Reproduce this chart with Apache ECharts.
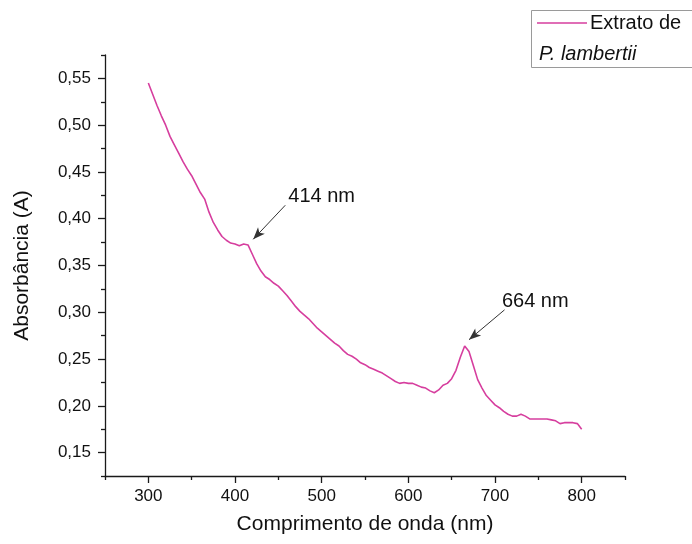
<!DOCTYPE html>
<html>
<head>
<meta charset="utf-8">
<script src="https://cdn.jsdelivr.net/npm/echarts@6/dist/echarts.min.js"></script>
<style>
html,body{margin:0;padding:0;background:#fff;}
#chart{width:692px;height:544px;}
</style>
</head>
<body>
<div id="chart"></div>
<script>
// Wavelength (nm)
const wavelengths = [300,305,310,315,320,325,330,335,340,345,350,355,360,365,370,375,380,385,390,395,
  400,405,410,415,420,425,430,435,440,445,450,455,460,465,470,475,480,485,490,495,
  500,505,510,515,520,525,530,535,540,545,550,555,560,565,570,575,580,585,590,595,
  600,605,610,615,620,625,630,635,640,645,650,655,660,665,670,675,680,685,690,695,
  700,705,710,715,720,725,730,735,740,745,750,755,760,765,770,775,780,785,790,795,800];
// Absorbance (A)
const absorbance = [0.545,0.533,0.521,0.510,0.500,0.488,0.479,0.470,0.461,0.453,0.446,0.437,0.428,0.421,0.407,0.396,0.388,0.381,0.377,0.374,
  0.373,0.371,0.373,0.372,0.362,0.352,0.344,0.338,0.335,0.331,0.328,0.323,0.318,0.312,0.306,0.301,0.297,0.293,0.288,0.283,
  0.279,0.275,0.271,0.267,0.264,0.259,0.255,0.253,0.250,0.246,0.244,0.241,0.239,0.237,0.235,0.232,0.229,0.226,0.224,0.225,
  0.224,0.224,0.222,0.220,0.219,0.216,0.214,0.217,0.222,0.224,0.229,0.238,0.252,0.264,0.258,0.243,0.228,0.219,0.211,0.206,
  0.201,0.198,0.194,0.191,0.189,0.189,0.191,0.189,0.186,0.186,0.186,0.186,0.186,0.185,0.184,0.181,0.182,0.182,0.182,0.181,0.175];

const seriesName = 'Extrato de P. lambertii';
const xMajorTicks = [300,400,500,600,700,800];
const xMinorTicks = [250,350,450,550,650,750,850];
const yMajorTicks = [0.15,0.20,0.25,0.30,0.35,0.40,0.45,0.50,0.55];
const yMinorTicks = [0.125,0.175,0.225,0.275,0.325,0.375,0.425,0.475,0.525,0.575];
// Annotations: label, text anchor [nm, A], arrow start, arrow tip
const annotLabels = ['414 nm','664 nm'];
const annotText = [[461.5,0.4234],[708,0.3115]];
const annotArrowFrom = [[458,0.4144],[711,0.3026]];
const annotArrowTo = [[421,0.378],[670,0.2707]];

const lineColor = '#d63e9e';
const axisColor = '#1a1a1a';
const font = 'Arial, "Liberation Sans", sans-serif';

const chart = echarts.init(document.getElementById('chart'), null, {renderer:'canvas'});
const baseX = {type:'value', min:250, max:850, position:'bottom', splitLine:{show:false},
  axisLine:{show:true, onZero:false, lineStyle:{color:axisColor, width:1.3}}};
const baseY = {type:'value', min:0.125, max:0.575, position:'left', splitLine:{show:false},
  axisLine:{show:true, onZero:false, lineStyle:{color:axisColor, width:1.3}}};

chart.setOption({
  animation:false,
  backgroundColor:'#fff',
  grid:{left:105, right:67, top:55, bottom:68},
  xAxis:[
    Object.assign({}, baseX, {
      name:'Comprimento de onda (nm)', nameLocation:'middle', nameGap:38,
      nameTextStyle:{fontSize:21, color:'#111', fontFamily:font},
      axisTick:{show:true, length:7, customValues:xMajorTicks, lineStyle:{color:axisColor, width:1.3}},
      axisLabel:{customValues:xMajorTicks, fontSize:17, color:'#111', fontFamily:font, margin:12}
    }),
    Object.assign({}, baseX, {
      axisLine:{show:false, onZero:false},
      axisTick:{show:true, length:4, customValues:xMinorTicks, lineStyle:{color:axisColor, width:1.3}},
      axisLabel:{show:false}
    })
  ],
  yAxis:[
    Object.assign({}, baseY, {
      name:'Absorbância (A)', nameLocation:'middle', nameGap:72,
      nameTextStyle:{fontSize:21, color:'#111', fontFamily:font},
      axisTick:{show:true, length:7, customValues:yMajorTicks, lineStyle:{color:axisColor, width:1.3}},
      axisLabel:{customValues:yMajorTicks, fontSize:17, color:'#111', fontFamily:font, margin:14,
        formatter: v => v.toFixed(2).replace('.', ',')}
    }),
    Object.assign({}, baseY, {
      axisLine:{show:false, onZero:false},
      axisTick:{show:true, length:4, customValues:yMinorTicks, lineStyle:{color:axisColor, width:1.3}},
      axisLabel:{show:false}
    })
  ],
  series:[
    {
      name:seriesName, type:'line', xAxisIndex:0, yAxisIndex:0,
      data: wavelengths.map((w,i)=>[w, absorbance[i]]),
      showSymbol:false, smooth:false,
      lineStyle:{color:lineColor, width:1.6},
      markLine:{
        silent:true, symbol:['none','arrow'], symbolSize:[7,12],
        label:{show:false},
        lineStyle:{color:'#333', width:1, type:'solid'},
        data: annotArrowFrom.map((p,i)=>[{coord:p},{coord:annotArrowTo[i]}])
      },
      markPoint:{
        silent:true, symbol:'circle', symbolSize:1,
        itemStyle:{color:'rgba(0,0,0,0)'},
        label:{show:true, position:'inside', align:'left', verticalAlign:'middle',
          formatter: p => p.name, fontSize:20, color:'#111', fontFamily:font},
        data: annotText.map((p,i)=>({coord:p, name:annotLabels[i]}))
      }
    }
  ],
  graphic:[
    {type:'rect', shape:{x:531.5, y:10.5, width:170, height:57},
      style:{fill:'#fff', stroke:'#9a9a9a', lineWidth:1}},
    {type:'line', shape:{x1:537, y1:23, x2:587, y2:23}, style:{stroke:lineColor, lineWidth:1.6}},
    {type:'text', x:590, y:23, style:{text:'Extrato de', font:'20px Arial, "Liberation Sans", sans-serif', fill:'#111', textVerticalAlign:'middle'}},
    {type:'text', x:539, y:54, style:{text:'P. lambertii', font:'italic 20px Arial, "Liberation Sans", sans-serif', fill:'#111', textVerticalAlign:'middle'}}
  ]
});
</script>
</body>
</html>
